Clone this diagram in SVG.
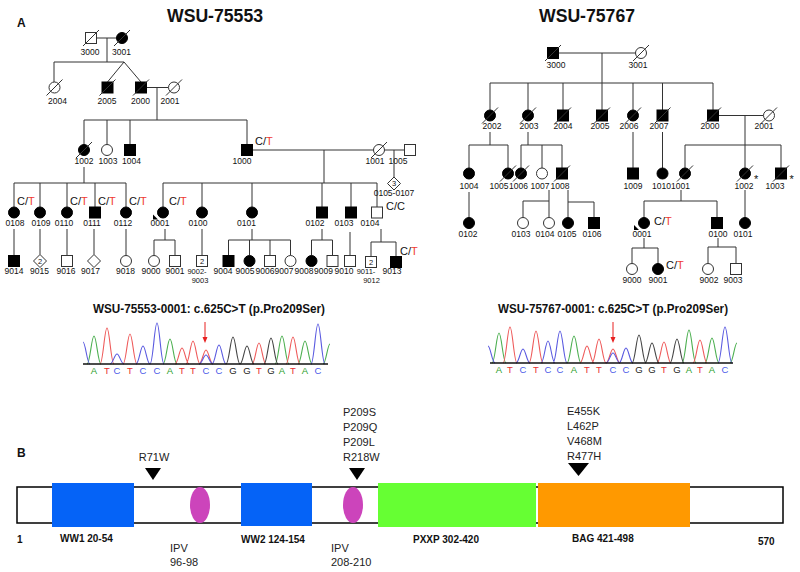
<svg xmlns="http://www.w3.org/2000/svg" xmlns:xlink="http://www.w3.org/1999/xlink" width="800" height="572" viewBox="0 0 800 572">
<style>
.ln{stroke:#333;stroke-width:1;fill:none}
.f{fill:#000;stroke:#000;stroke-width:1}
.o{fill:#fff;stroke:#333;stroke-width:1}
.lb{font-family:"Liberation Sans",Arial,sans-serif;font-size:8.5px;text-anchor:middle;fill:#111}
.lb2{font-family:"Liberation Sans",Arial,sans-serif;font-size:7.5px;text-anchor:middle;fill:#111}
.ct{font-family:"Liberation Sans",Arial,sans-serif;font-size:11px;fill:#111}
.r{fill:#f03a32}
.n{font-family:"Liberation Sans",Arial,sans-serif;font-size:7.5px;text-anchor:middle;fill:#111}
.ttl{font-family:"Liberation Sans",Arial,sans-serif;font-weight:bold;font-size:18.5px;fill:#111}
.st{font-family:"Liberation Sans",Arial,sans-serif;font-weight:bold;font-size:12px;fill:#111}
.bs{font-family:"Liberation Sans",Arial,sans-serif;font-size:9.5px;text-anchor:middle}
.tr{fill:none;stroke-width:1.1}
.mu{font-family:"Liberation Sans",Arial,sans-serif;font-size:11px;fill:#222}
.dl{font-family:"Liberation Sans",Arial,sans-serif;font-size:10px;font-weight:bold;fill:#111}
</style>
<defs>
<rect id="sq" x="-5.5" y="-5.5" width="11" height="11"/>
<circle id="ci" r="5.5"/>
<polygon id="dm" points="0,-6.5 6.5,0 0,6.5 -6.5,0"/>
<line id="ds" x1="-8" y1="8" x2="8" y2="-8"/>
<polygon id="pa" points="-10,2 -5,7 -10,7"/>
</defs>
<rect width="800" height="572" fill="#fff"/>

<text x="17" y="27" class="st" font-size="13">A</text>
<text x="215" y="22" class="ttl" text-anchor="middle" textLength="96" lengthAdjust="spacingAndGlyphs">WSU-75553</text>
<text x="587" y="22" class="ttl" text-anchor="middle" textLength="96" lengthAdjust="spacingAndGlyphs">WSU-75767</text>

<g id="connectors" class="ln">
<path d="M96.5 38H116.5M107 38V62M54 62H124M54 62V82M124 62L107.5 82M124 62L141 82"/>
<path d="M146.5 87.5H168.5M157 87.5V120M84 120H247M84 120V144.5M107 120V144.5M130 120V144.5M247 120V144.5"/>
<path d="M252.5 150H373.5M384.5 150H404.5M394 150V177M324 150V183M84 167V183"/>
<path d="M14 183H126M14 183V207M40 183V207M67 183V207M95 183V207M126 183V207"/>
<path d="M163 183H377M163 183V207M202 183V207M252 183V207M322 183V207M351 183V207M377 183V207"/>
<path d="M14 229V255.5M40 229V254.5M67 229V255.5M94 229V254.5M126 229V255.5"/>
<path d="M165 229V240M154 240H175M154 240V255.5M175 240V255.5M202 229V255.5"/>
<path d="M252 229V240M228.5 240H290.5M228.5 240V255.5M249.5 240V255.5M270 240V255.5M290.5 240V255.5"/>
<path d="M322 229V240M311.5 240H332.5M311.5 240V255.5M332.5 240V255.5M350 232V255.5"/>
<path d="M381 229V242M371 242H396M371 242V256.5M396 242V256.5"/>
<path d="M558.5 53H635.5M602 53V83M490 83H713M490 83V110M528 83V110M563 83V110M602 83V110M633 83V110M662.5 83V110M713 83V110"/>
<path d="M718.5 115.5H763.5M745 115.5V168M685 145H781M685 145V168M781 145V168"/>
<path d="M490 132V145M469 145H508M469 145V168M508 145V168M528 132V145M521 145H562M521 145V168M542 145V168M562 145V168M633 132V168M662.5 132V168"/>
<path d="M469 192V217.5M549 190V201M523 201H549M523 201V217.5M549 201V217.5M568 190V217.5M568 202H594M594 202V217.5"/>
<path d="M681 190V201M644 201H717M644 201V217.5M717 201V217.5M745 190V217.5"/>
<path d="M644 238V248M632 248H658M632 248V263.5M658 248V263.5M718 238V247M708 247H736M708 247V263.5M736 247V263.5"/>
</g>

<!-- Left pedigree -->
<g id="L3000"><use href="#sq" x="91" y="38" class="o"/><use href="#ds" x="91" y="38" class="ln"/><text x="90" y="55" class="lb">3000</text></g>
<g id="L3001"><use href="#ci" x="122" y="38" class="f"/><use href="#ds" x="122" y="38" class="ln"/><text x="121.5" y="55" class="lb">3001</text></g>
<g id="L2004"><use href="#ci" x="54.5" y="87.5" class="o"/><use href="#ds" x="54.5" y="87.5" class="ln"/><text x="57.5" y="104" class="lb">2004</text></g>
<g id="L2005"><use href="#sq" x="107.5" y="87.5" class="f"/><use href="#ds" x="107.5" y="87.5" class="ln"/><text x="107" y="104" class="lb">2005</text></g>
<g id="L2000"><use href="#sq" x="141" y="87.5" class="f"/><use href="#ds" x="141" y="87.5" class="ln"/><text x="140.5" y="104" class="lb">2000</text></g>
<g id="L2001"><use href="#ci" x="174" y="87.5" class="o"/><use href="#ds" x="174" y="87.5" class="ln"/><text x="170" y="104" class="lb">2001</text></g>
<g id="L1002"><use href="#ci" x="84" y="150" class="f"/><use href="#ds" x="84" y="150" class="ln"/><text x="84" y="164" class="lb">1002</text></g>
<g id="L1003"><use href="#ci" x="107" y="150" class="o"/><text x="108" y="164" class="lb">1003</text></g>
<g id="L1004"><use href="#sq" x="130" y="150" class="f"/><text x="131.5" y="164" class="lb">1004</text></g>
<g id="L1000"><use href="#sq" x="247" y="150" class="f"/><text x="242" y="164" class="lb">1000</text><text x="255" y="145" class="ct">C/<tspan class="r">T</tspan></text></g>
<g id="L1001"><use href="#ci" x="379" y="150" class="o"/><use href="#ds" x="379" y="150" class="ln"/><text x="375" y="163.5" class="lb">1001</text></g>
<g id="L1005"><use href="#sq" x="410" y="150" class="o"/><text x="398" y="163.5" class="lb">1005</text></g>
<g id="L0105-0107"><use href="#dm" x="394" y="183.5" class="o"/><text x="394" y="186" class="n">3</text><text x="394" y="196" class="lb">0105-0107</text></g>
<g id="L0108"><use href="#ci" x="14" y="212.5" class="f"/><text x="15" y="226" class="lb">0108</text><text x="17" y="205" class="ct">C/<tspan class="r">T</tspan></text></g>
<g id="L0109"><use href="#ci" x="40" y="212.5" class="f"/><text x="41" y="226" class="lb">0109</text></g>
<g id="L0110"><use href="#ci" x="67" y="212.5" class="f"/><text x="64" y="226" class="lb">0110</text><text x="70" y="205" class="ct">C/<tspan class="r">T</tspan></text></g>
<g id="L0111"><use href="#sq" x="95" y="212.5" class="f"/><text x="92" y="226" class="lb">0111</text><text x="98" y="205" class="ct">C/<tspan class="r">T</tspan></text></g>
<g id="L0112"><use href="#ci" x="126" y="212.5" class="f"/><text x="123" y="226" class="lb">0112</text><text x="129" y="205" class="ct">C/<tspan class="r">T</tspan></text></g>
<g id="L0001"><use href="#ci" x="163" y="212.5" class="f"/><use href="#pa" x="163" y="212.5" fill="#000"/><text x="160" y="226" class="lb">0001</text><text x="169" y="205" class="ct">C/<tspan class="r">T</tspan></text></g>
<g id="L0100"><use href="#ci" x="202" y="212.5" class="f"/><text x="198" y="226" class="lb">0100</text></g>
<g id="L0101"><use href="#ci" x="252" y="212.5" class="f"/><text x="246.5" y="226" class="lb">0101</text></g>
<g id="L0102"><use href="#sq" x="322" y="212.5" class="f"/><text x="315" y="226" class="lb">0102</text></g>
<g id="L0103"><use href="#sq" x="351" y="212.5" class="f"/><text x="344" y="226" class="lb">0103</text></g>
<g id="L0104"><use href="#sq" x="377" y="212.5" class="o"/><text x="370" y="226" class="lb">0104</text><text x="386" y="210" class="ct">C/C</text></g>
<g id="L9014"><use href="#sq" x="14" y="261" class="f"/><text x="14" y="274" class="lb">9014</text></g>
<g id="L9015"><use href="#dm" x="40" y="261" class="o"/><text x="40" y="263.7" class="n">2</text><text x="39.5" y="274" class="lb">9015</text></g>
<g id="L9016"><use href="#sq" x="67" y="261" class="o"/><text x="66" y="274" class="lb">9016</text></g>
<g id="L9017"><use href="#dm" x="94" y="261" class="o"/><text x="90.5" y="274" class="lb">9017</text></g>
<g id="L9018"><use href="#ci" x="126" y="261" class="o"/><text x="125.5" y="274" class="lb">9018</text></g>
<g id="L9000"><use href="#ci" x="154" y="261" class="o"/><text x="151" y="274" class="lb">9000</text></g>
<g id="L9001"><use href="#sq" x="175" y="261" class="o"/><text x="175" y="274" class="lb">9001</text></g>
<g id="L9002-9003"><use href="#sq" x="202" y="261" class="o"/><text x="202" y="263.7" class="n">2</text><text x="197" y="273.5" class="lb2">9002-</text><text x="200" y="282.5" class="lb2">9003</text></g>
<g id="L9004"><use href="#sq" x="228.5" y="261" class="f"/><text x="223" y="274" class="lb">9004</text></g>
<g id="L9005"><use href="#ci" x="249.5" y="261" class="f"/><text x="245" y="274" class="lb">9005</text></g>
<g id="L9006"><use href="#sq" x="270" y="261" class="o"/><text x="265" y="274" class="lb">9006</text></g>
<g id="L9007"><use href="#ci" x="290.5" y="261" class="o"/><text x="284" y="274" class="lb">9007</text></g>
<g id="L9008"><use href="#ci" x="311.5" y="261" class="f"/><text x="304" y="274" class="lb">9008</text></g>
<g id="L9009"><use href="#sq" x="332.5" y="261" class="o"/><text x="323.5" y="274" class="lb">9009</text></g>
<g id="L9010"><use href="#sq" x="350" y="261" class="o"/><text x="344" y="274" class="lb">9010</text></g>
<g id="L9011-9012"><use href="#sq" x="371" y="262" class="o"/><text x="371" y="264.7" class="n">2</text><text x="366" y="273.5" class="lb2">9011-</text><text x="371.5" y="282.5" class="lb2">9012</text></g>
<g id="L9013"><use href="#sq" x="396" y="262" class="f"/><text x="392" y="274" class="lb">9013</text><text x="400" y="255" class="ct">C/<tspan class="r">T</tspan></text></g>

<!-- Right pedigree -->
<g id="R3000"><use href="#sq" x="553" y="53" class="f"/><use href="#ds" x="553" y="53" class="ln"/><text x="556" y="68" class="lb">3000</text></g>
<g id="R3001"><use href="#ci" x="641" y="53" class="o"/><use href="#ds" x="641" y="53" class="ln"/><text x="638" y="68" class="lb">3001</text></g>
<g id="R2002"><use href="#ci" x="490" y="115.5" class="f"/><use href="#ds" x="490" y="115.5" class="ln"/><text x="492" y="129" class="lb">2002</text></g>
<g id="R2003"><use href="#ci" x="528" y="115.5" class="f"/><use href="#ds" x="528" y="115.5" class="ln"/><text x="529" y="129" class="lb">2003</text></g>
<g id="R2004"><use href="#sq" x="563" y="115.5" class="f"/><use href="#ds" x="563" y="115.5" class="ln"/><text x="563" y="129" class="lb">2004</text></g>
<g id="R2005"><use href="#sq" x="602" y="115.5" class="f"/><use href="#ds" x="602" y="115.5" class="ln"/><text x="600" y="129" class="lb">2005</text></g>
<g id="R2006"><use href="#ci" x="633" y="115.5" class="f"/><use href="#ds" x="633" y="115.5" class="ln"/><text x="629" y="129" class="lb">2006</text></g>
<g id="R2007"><use href="#sq" x="662.5" y="115.5" class="f"/><use href="#ds" x="662.5" y="115.5" class="ln"/><text x="659" y="129" class="lb">2007</text></g>
<g id="R2000"><use href="#sq" x="713" y="115.5" class="f"/><use href="#ds" x="713" y="115.5" class="ln"/><text x="710" y="129" class="lb">2000</text></g>
<g id="R2001"><use href="#ci" x="769" y="115.5" class="o"/><use href="#ds" x="769" y="115.5" class="ln"/><text x="764" y="129" class="lb">2001</text></g>
<g id="R1004"><use href="#ci" x="469" y="173.5" class="f"/><text x="469" y="188.5" class="lb">1004</text></g>
<g id="R1005"><use href="#ci" x="508" y="173.5" class="f"/><use href="#ds" x="508" y="173.5" class="ln"/><text x="499" y="188.5" class="lb">1005</text></g>
<g id="R1006"><use href="#ci" x="521" y="173.5" class="f"/><use href="#ds" x="521" y="173.5" class="ln"/><text x="518.5" y="188.5" class="lb">1006</text></g>
<g id="R1007"><use href="#ci" x="542" y="173.5" class="o"/><text x="540" y="188.5" class="lb">1007</text></g>
<g id="R1008"><use href="#sq" x="562" y="173.5" class="f"/><use href="#ds" x="562" y="173.5" class="ln"/><text x="560" y="188.5" class="lb">1008</text></g>
<g id="R1009"><use href="#sq" x="633" y="173.5" class="f"/><text x="633" y="188.5" class="lb">1009</text></g>
<g id="R1010"><use href="#ci" x="662.5" y="173.5" class="f"/><text x="661.5" y="188.5" class="lb">1010</text></g>
<g id="R1001"><use href="#ci" x="685" y="173.5" class="f"/><use href="#ds" x="685" y="173.5" class="ln"/><text x="680.5" y="188.5" class="lb">1001</text></g>
<g id="R1002"><use href="#ci" x="745" y="173.5" class="f"/><use href="#ds" x="745" y="173.5" class="ln"/><text x="744" y="188.5" class="lb">1002</text><text x="754" y="183" class="ct" font-size="13">*</text></g>
<g id="R1003"><use href="#sq" x="781" y="173.5" class="f"/><use href="#ds" x="781" y="173.5" class="ln"/><text x="775" y="188.5" class="lb">1003</text><text x="789.5" y="183" class="ct" font-size="13">*</text></g>
<g id="R0102"><use href="#ci" x="469" y="223" class="f"/><text x="468" y="236.5" class="lb">0102</text></g>
<g id="R0103"><use href="#ci" x="523" y="223" class="o"/><text x="521" y="236.5" class="lb">0103</text></g>
<g id="R0104"><use href="#ci" x="549" y="223" class="o"/><text x="545" y="236.5" class="lb">0104</text></g>
<g id="R0105"><use href="#ci" x="568" y="223" class="f"/><text x="567" y="236.5" class="lb">0105</text></g>
<g id="R0106"><use href="#sq" x="594" y="223" class="f"/><text x="592" y="236.5" class="lb">0106</text></g>
<g id="R0001"><use href="#ci" x="644" y="223" class="f"/><use href="#pa" x="644" y="223" fill="#000"/><text x="642" y="236.5" class="lb">0001</text><text x="654" y="225" class="ct">C/<tspan class="r">T</tspan></text></g>
<g id="R0100"><use href="#sq" x="717" y="223" class="f"/><text x="718" y="236.5" class="lb">0100</text></g>
<g id="R0101"><use href="#ci" x="745" y="223" class="f"/><text x="743" y="236.5" class="lb">0101</text></g>
<g id="R9000"><use href="#ci" x="632" y="269" class="o"/><text x="632" y="282.5" class="lb">9000</text></g>
<g id="R9001"><use href="#ci" x="658" y="269" class="f"/><text x="658" y="282.5" class="lb">9001</text><text x="666" y="269" class="ct">C/<tspan class="r">T</tspan></text></g>
<g id="R9002"><use href="#ci" x="708" y="269" class="o"/><text x="709" y="282.5" class="lb">9002</text></g>
<g id="R9003"><use href="#sq" x="736" y="269" class="o"/><text x="733" y="282.5" class="lb">9003</text></g>

<!-- Chromatograms -->
<g id="chrom-left">
<text x="209" y="313" class="st" text-anchor="middle" textLength="232" lengthAdjust="spacingAndGlyphs">WSU-75553-0001: c.625C&gt;T (p.Pro209Ser)</text>
<path class="tr" stroke="#4caf50" d="M87,364 C90,364 91.5,336 94,336 S98,364 101,364 M163,364 C166,364 167.5,339 170,339 S174,364 177,364 M275,364 C278,364 279.5,336 282,336 S286,364 289,364 M298,364 C301,364 302.5,341 305,341 S309,364 312,364 M323,364 C326,364 327.5,344 330,344"/>
<path class="tr" stroke="#ee5a5a" d="M100,364 C103,364 104.5,328 107,328 S111,364 114,364 M123,364 C126,364 127.5,334 130,334 S134,364 137,364 M175,364 C178,364 179.5,348 182,348 S186,364 189,364 M186,364 C189,364 190.5,341 193,341 S197,364 200,364 M199,364 C202,364 203.5,350 206,350 S210,364 213,364 M252,364 C255,364 256.5,343 259,343 S263,364 266,364 M286,364 C289,364 290.5,337 293,337 S297,364 300,364"/>
<path class="tr" stroke="#5a5ae0" d="M110,364 C113,364 114.5,354 117,354 S121,364 124,364 M136,364 C139,364 140.5,346 143,346 S147,364 150,364 M150,364 C153,364 154.5,323 157,323 S161,364 164,364 M199,364 C202,364 203.5,355 206,355 S210,364 213,364 M212,364 C215,364 216.5,345 219,345 S223,364 226,364 M311,364 C314,364 315.5,324 318,324 S322,364 325,364 M83,342 C85.5,342 87,364 90,364"/>
<path class="tr" stroke="#444" d="M226,364 C229,364 230.5,337 233,337 S237,364 240,364 M240,364 C243,364 244.5,346 247,346 S251,364 254,364 M264,364 C267,364 268.5,338 271,338 S275,364 278,364"/>
<line x1="83" y1="364" x2="328" y2="364" stroke="#111" stroke-width="1.5"/>
<line x1="205" y1="322" x2="205" y2="338" stroke="#e82020" stroke-width="1"/>
<polygon points="202.5,337 207.5,337 205,343" fill="#e82020"/>
<g class="bs">
<text x="94" y="373.5" fill="#2ca02c">A</text><text x="107" y="373.5" fill="#e83030">T</text><text x="117" y="373.5" fill="#4a5ae8">C</text><text x="130" y="373.5" fill="#e83030">T</text><text x="143" y="373.5" fill="#4a5ae8">C</text><text x="157" y="373.5" fill="#4a5ae8">C</text><text x="170" y="373.5" fill="#2ca02c">A</text><text x="182" y="373.5" fill="#e83030">T</text><text x="193" y="373.5" fill="#e83030">T</text><text x="206" y="373.5" fill="#4a5ae8">C</text><text x="219" y="373.5" fill="#4a5ae8">C</text><text x="233" y="373.5" fill="#222">G</text><text x="247" y="373.5" fill="#222">G</text><text x="259" y="373.5" fill="#e83030">T</text><text x="271" y="373.5" fill="#222">G</text><text x="282" y="373.5" fill="#2ca02c">A</text><text x="293" y="373.5" fill="#e83030">T</text><text x="305" y="373.5" fill="#2ca02c">A</text><text x="318" y="373.5" fill="#4a5ae8">C</text>
</g>
</g>
<g id="chrom-right">
<text x="613" y="313" class="st" text-anchor="middle" textLength="230" lengthAdjust="spacingAndGlyphs">WSU-75767-0001: c.625C&gt;T (p.Pro209Ser)</text>
<path class="tr" stroke="#4caf50" d="M492,363 C495,363 496.5,333 499,333 S503,363 506,363 M567,363 C570,363 571.5,336 574,336 S578,363 581,363 M682,363 C685,363 686.5,330 689,330 S693,363 696,363 M705,363 C708,363 709.5,338 712,338 S716,363 719,363 M730,363 C733,363 734.5,343 737,343"/>
<path class="tr" stroke="#ee5a5a" d="M503,363 C506,363 507.5,327 510,327 S514,363 517,363 M529,363 C532,363 533.5,331 536,331 S540,363 543,363 M580,363 C583,363 584.5,346 587,346 S591,363 594,363 M592,363 C595,363 596.5,339 599,339 S603,363 606,363 M606,363 C609,363 610.5,349 613,349 S617,363 620,363 M657,363 C660,363 661.5,342 664,342 S668,363 671,363 M693,363 C696,363 697.5,340 700,340 S704,363 707,363"/>
<path class="tr" stroke="#5a5ae0" d="M516,363 C519,363 520.5,349 523,349 S527,363 530,363 M541,363 C544,363 545.5,341 548,341 S552,363 555,363 M553,363 C556,363 557.5,331 560,331 S564,363 567,363 M606,363 C609,363 610.5,353 613,353 S617,363 620,363 M619,363 C622,363 623.5,348 626,348 S630,363 633,363 M718,363 C721,363 722.5,327 725,327 S729,363 732,363 M488,346 C490.5,346 492,363 495,363"/>
<path class="tr" stroke="#444" d="M632,363 C635,363 636.5,335 639,335 S643,363 646,363 M645,363 C648,363 649.5,343 652,343 S656,363 659,363 M670,363 C673,363 674.5,339 677,339 S681,363 684,363"/>
<line x1="490" y1="363" x2="733" y2="363" stroke="#111" stroke-width="1.5"/>
<line x1="613" y1="322" x2="613" y2="338" stroke="#e82020" stroke-width="1"/>
<polygon points="610.5,337 615.5,337 613,343" fill="#e82020"/>
<g class="bs">
<text x="499" y="372.5" fill="#2ca02c">A</text><text x="510" y="372.5" fill="#e83030">T</text><text x="523" y="372.5" fill="#4a5ae8">C</text><text x="536" y="372.5" fill="#e83030">T</text><text x="548" y="372.5" fill="#4a5ae8">C</text><text x="560" y="372.5" fill="#4a5ae8">C</text><text x="574" y="372.5" fill="#2ca02c">A</text><text x="587" y="372.5" fill="#e83030">T</text><text x="599" y="372.5" fill="#e83030">T</text><text x="613" y="372.5" fill="#4a5ae8">C</text><text x="626" y="372.5" fill="#4a5ae8">C</text><text x="639" y="372.5" fill="#222">G</text><text x="652" y="372.5" fill="#222">G</text><text x="664" y="372.5" fill="#e83030">T</text><text x="677" y="372.5" fill="#222">G</text><text x="689" y="372.5" fill="#2ca02c">A</text><text x="700" y="372.5" fill="#e83030">T</text><text x="712" y="372.5" fill="#2ca02c">A</text><text x="725" y="372.5" fill="#4a5ae8">C</text>
</g>
</g>

<!-- Part B: domain diagram -->
<g id="protein">
<text x="17" y="457" class="st" font-size="13">B</text>
<rect x="17" y="487" width="766" height="36" fill="#fff" stroke="#000" stroke-width="1.5"/>
<rect x="52" y="483" width="82" height="44" fill="#0563f7"/>
<ellipse cx="200" cy="505" rx="10" ry="18" fill="#cc44bb"/>
<rect x="241" y="483" width="71" height="43" fill="#0563f7"/>
<ellipse cx="353" cy="505" rx="10" ry="18" fill="#cc44bb"/>
<rect x="378" y="483" width="158" height="44" fill="#66ff33"/>
<rect x="538" y="483" width="152" height="44" fill="#ff9900"/>
<polygon points="145,468 161,468 153,480" fill="#000"/>
<polygon points="349,468 365,468 357,480" fill="#000"/>
<polygon points="568,463 589,463 578.5,476" fill="#000"/>
<text x="154" y="461" class="mu" text-anchor="middle">R71W</text>
<text x="343" y="416" class="mu">P209S</text>
<text x="343" y="431" class="mu">P209Q</text>
<text x="343" y="446" class="mu">P209L</text>
<text x="343" y="461" class="mu">R218W</text>
<text x="567" y="415" class="mu">E455K</text>
<text x="567" y="430" class="mu">L462P</text>
<text x="567" y="445" class="mu">V468M</text>
<text x="567" y="459.5" class="mu">R477H</text>
<text x="17" y="543" class="dl">1</text>
<text x="60" y="542" class="dl">WW1 20-54</text>
<text x="170" y="552" class="mu">IPV</text>
<text x="170" y="566" class="mu">96-98</text>
<text x="241" y="543" class="dl">WW2 124-154</text>
<text x="331" y="552" class="mu">IPV</text>
<text x="331" y="566" class="mu">208-210</text>
<text x="413" y="543" class="dl">PXXP 302-420</text>
<text x="572" y="542" class="dl">BAG 421-498</text>
<text x="758" y="545" class="dl">570</text>
</g>
</svg>
